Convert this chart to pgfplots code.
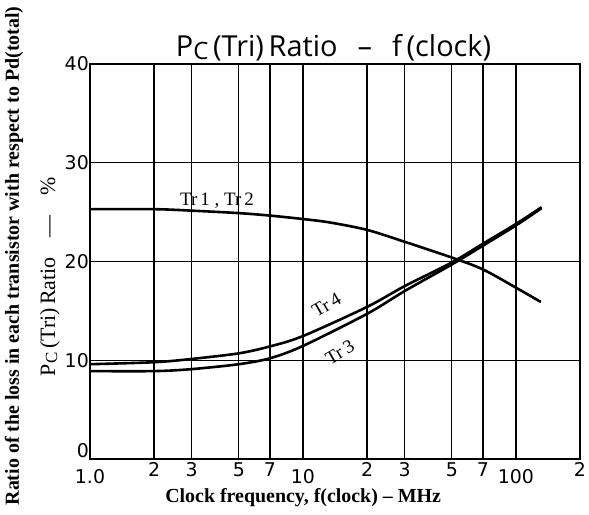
\documentclass[border=0pt]{standalone}
\usepackage{fontspec}
\setmainfont{Liberation Serif}
\newfontfamily\tickfont{DejaVu Sans}
\newfontfamily\titlefont{Open Sans}
\usepackage{pgfplots}
\pgfplotsset{compat=1.18}

\begin{document}
\begin{tikzpicture}
\begin{axis}[
	xmode=log,
	xmin=1, xmax=200,
	ymin=0, ymax=40,
	width=490bp, height=395bp,
	scale only axis,
	clip=false,
	xtick={2,3,5,7,20,30,50,70,200},
	xticklabels={2,3,5,7,2,3,5,7,2},
	extra x ticks={1,10,100},
	extra x tick labels={1.0,10,100},
	extra x tick style={xticklabel style={yshift=-7bp}},
	ytick={0,10,20,30,40},
	yticklabels={\raisebox{18bp}{0},10,20,30,40},
	/pgf/number format/assume math mode=true,
	ticklabel style={font=\tickfont\fontsize{19}{19}\selectfont},
	yticklabel style={inner xsep=1bp},
	grid=major,
	major grid style={black, line width=1.2bp},
	axis line style={black, line width=1.8bp},
	tick style={draw=none},
	minor tick num=0,
	curve/.style={black, line width=2.6bp, smooth},
]

% Tr1, Tr2
\addplot[curve] coordinates {(1,25.3) (2,25.3) (3,25.15) (5,24.9) (7,24.65) (10,24.3) (13.4,23.95) (20,23.2) (30,22.0) (50,20.4) (70,19.2) (100,17.35) (131,15.9)};
% Tr4
\addplot[curve] coordinates {(1,9.6) (2,9.8) (3,10.13) (5,10.7) (7,11.4) (10,12.45) (20,15.4) (30,17.5) (50,19.9) (70,21.8) (100,23.8) (132,25.5)};
% Tr3
\addplot[curve] coordinates {(1,8.9) (2,8.9) (3,9.1) (5,9.6) (7,10.2) (10,11.45) (20,14.7) (30,17.0) (50,19.7) (70,21.6) (100,23.65) (132,25.4)};

\node[font=\fontsize{19}{19}\selectfont] at (axis cs:3.95,26.2) {Tr\,1 , Tr\,2};
\node[font=\fontsize{19}{19}\selectfont, rotate=30, inner sep=0pt] at (axis cs:12.9,15.6) {Tr\,4};
\node[font=\fontsize{19}{19}\selectfont, rotate=30, inner sep=0pt] at (axis cs:14.9,10.8) {Tr\,3};

\node[font=\titlefont\fontsize{29}{29}\selectfont, anchor=base] at (rel axis cs:0.497,1.0) [yshift=7bp]
	{P\raisebox{-3bp}{\fontsize{24}{24}\selectfont C}\,(Tri)\,Ratio\hspace{20bp}–\hspace{20bp}f\,(clock)};

\node[font=\bfseries\fontsize{20}{20}\selectfont] at (rel axis cs:0.435,-0.099) {Clock frequency, f(clock) – MHz};
\node[font=\bfseries\fontsize{20}{20}\selectfont, rotate=90] at (rel axis cs:-0.155,0.514)
	{Ratio of the loss in each transistor with respect to Pd(total)};
\node[font=\fontsize{22}{22}\selectfont, rotate=90] at (rel axis cs:-0.082,0.462)
	{P\raisebox{-2bp}{\fontsize{17}{17}\selectfont C}\,(Tri)\,Ratio\hspace{20bp}—\hspace{20bp}\%};
\end{axis}
\pgfresetboundingbox
\useasboundingbox ([shift={(-90bp,-56bp)}]current axis.south west) rectangle ([shift={(499bp,459bp)}]current axis.south west);
\end{tikzpicture}
\end{document}
